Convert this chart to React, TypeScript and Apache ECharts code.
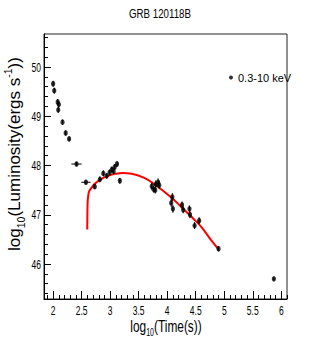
import React, { useEffect, useRef } from "react";
import * as echarts from "echarts";

const title = "GRB 120118B";
const seriesName = "0.3-10 keV";

// log10(Time) and log10(Luminosity) of the XRT points
const logTime = [2.0, 2.02, 2.08, 2.1, 2.09, 2.165, 2.22, 2.28, 2.41, 2.575, 2.73, 2.82, 2.88, 2.94, 2.99, 3.03, 3.06, 3.08, 3.12, 3.17, 3.73, 3.76, 3.79, 3.8, 3.84, 3.86, 4.07, 4.09, 4.1, 4.26, 4.28, 4.39, 4.4, 4.48, 4.56, 4.9, 5.87];
const logLum = [49.66, 49.52, 49.29, 49.24, 49.13, 48.88, 48.66, 48.54, 48.03, 47.66, 47.57, 47.72, 47.84, 47.79, 47.86, 47.92, 47.88, 47.97, 48.03, 47.69, 47.58, 47.52, 47.5, 47.62, 47.66, 47.6, 47.24, 47.36, 47.12, 47.2, 47.1, 47.12, 47.0, 46.78, 46.88, 46.31, 45.7];
const timeErr = [0, 0, 0, 0, 0, 0, 0, 0, 0.09, 0.08, 0, 0, 0, 0, 0, 0, 0, 0, 0, 0, 0, 0, 0, 0, 0, 0, 0, 0, 0, 0, 0, 0, 0, 0, 0, 0, 0];
const lumErr = [0.06, 0.06, 0.06, 0.06, 0.06, 0.05, 0.05, 0.05, 0.04, 0.04, 0.05, 0.06, 0.06, 0.06, 0.06, 0.06, 0.06, 0.06, 0.06, 0.06, 0.07, 0.07, 0.07, 0.08, 0.08, 0.08, 0.08, 0.08, 0.08, 0.07, 0.07, 0.07, 0.07, 0.07, 0.07, 0.05, 0.03];

// fitted model curve (red)
const fitTime = [2.598, 2.6, 2.603, 2.607, 2.615, 2.63, 2.675, 2.73, 2.82, 2.94, 3.08, 3.23, 3.35, 3.58, 3.8, 4.05, 4.23, 4.45, 4.6, 4.78, 4.9];
const fitLum = [46.7, 46.95, 47.17, 47.3, 47.38, 47.47, 47.55, 47.63, 47.71, 47.78, 47.83, 47.85, 47.84, 47.76, 47.6, 47.37, 47.18, 46.93, 46.75, 46.47, 46.3];

// tick values
const xMajorTicks = [2, 2.5, 3, 3.5, 4, 4.5, 5, 5.5, 6];
const xMinorTicks = [1.9, 2.1, 2.2, 2.3, 2.4, 2.6, 2.7, 2.8, 2.9, 3.1, 3.2, 3.3, 3.4, 3.6, 3.7, 3.8, 3.9, 4.1, 4.2, 4.3, 4.4, 4.6, 4.7, 4.8, 4.9, 5.1, 5.2, 5.3, 5.4, 5.6, 5.7, 5.8, 5.9, 6.1];
const yMajorTicks = [46, 47, 48, 49, 50];
const yMinorTicks = [45.4, 45.6, 45.8, 46.2, 46.4, 46.6, 46.8, 47.2, 47.4, 47.6, 47.8, 48.2, 48.4, 48.6, 48.8, 49.2, 49.4, 49.6, 49.8, 50.2, 50.4, 50.6];

const X_MIN = 1.84, X_MAX = 6.1, Y_MIN = 45.29, Y_MAX = 50.67;
const SANS = "'Liberation Sans', Arial, sans-serif";
const SQUEEZE = 0.68;

export default function App() {
  const ref = useRef<HTMLDivElement>(null);
  useEffect(() => {
    if (!ref.current) return;
    const chart = echarts.init(ref.current, undefined, { renderer: "svg" });
    const points = logTime.map((t, i) => [t, logLum[i]]);
    const errs = logTime.map((t, i) => [t, logLum[i], timeErr[i], lumErr[i]]);
    const fit = fitTime.map((t, i) => [t, fitLum[i]]);
    const axisCommon = {
      type: "value",
      min: X_MIN,
      max: X_MAX,
      splitLine: { show: false },
    };
    const baseGraphics: any[] = [
      {
        id: "title", type: "text", x: 160, y: 13, scaleX: 0.72,
        style: { text: title, font: `13.5px ${SANS}`, fill: "#000", textAlign: "center", textVerticalAlign: "middle" },
      },
      {
        id: "xname", type: "text", x: 166, y: 326, scaleX: 0.7,
        style: {
          text: "{a|log}{s|10}{a|(Time(s))}",
          textAlign: "center", textVerticalAlign: "middle",
          rich: {
            a: { fontSize: 17, fontFamily: SANS, fill: "#000" },
            s: { fontSize: 10, fontFamily: SANS, fill: "#000", verticalAlign: "bottom", padding: [14, 0, 0, 0] },
          },
        },
      },
      {
        id: "yname", type: "text", x: 14, y: 154, rotation: Math.PI / 2,
        style: {
          text: "{a|log}{s|10}{a|(Luminosity(ergs s}{p|-1}{a|))}",
          textAlign: "center", textVerticalAlign: "middle",
          rich: {
            a: { fontSize: 17, fontFamily: SANS, fill: "#000" },
            s: { fontSize: 10.5, fontFamily: SANS, fill: "#000", verticalAlign: "bottom", padding: [13, 0, 0, 0] },
            p: { fontSize: 10.5, fontFamily: SANS, fill: "#000", padding: [0, 0, 12, 0] },
          },
        },
      },
    ];
    chart.setOption({
      animation: false,
      backgroundColor: "#fff",
      grid: { left: 44, right: 32, top: 34, bottom: 55, show: true, borderColor: "#222", borderWidth: 1, backgroundColor: "transparent" },
      legend: {
        data: [seriesName],
        left: 224,
        top: 67,
        icon: "circle",
        itemWidth: 4,
        itemHeight: 5.5,
        textStyle: { fontFamily: SANS, fontSize: 11, color: "#000" },
      },
      graphic: baseGraphics,
      xAxis: [
        {
          ...axisCommon,
          position: "bottom",
          axisLine: { lineStyle: { color: "#000", width: 1 } },
          axisTick: { inside: true, length: 8, customValues: xMajorTicks, lineStyle: { color: "#000" } },
          axisLabel: { show: false },
        },
        {
          ...axisCommon,
          position: "bottom",
          axisLine: { show: false },
          axisTick: { inside: true, length: 4, customValues: xMinorTicks, lineStyle: { color: "#000" } },
          axisLabel: { show: false },
        },
      ],
      yAxis: [
        {
          type: "value", min: Y_MIN, max: Y_MAX, splitLine: { show: false },
          axisLine: { show: true, lineStyle: { color: "#000", width: 1 } },
          axisTick: { show: true, inside: true, length: 7, customValues: yMajorTicks, lineStyle: { color: "#000" } },
          axisLabel: { show: false },
        },
        {
          type: "value", min: Y_MIN, max: Y_MAX, position: "left", splitLine: { show: false },
          axisLine: { show: false },
          axisTick: { show: true, inside: true, length: 4, customValues: yMinorTicks, lineStyle: { color: "#000" } },
          axisLabel: { show: false },
        },
      ],
      series: [
        {
          type: "line",
          name: "fit",
          data: fit,
          showSymbol: false,
          smooth: 0.5,
          lineStyle: { color: "#ff0000", width: 2 },
          z: 3,
        },
        {
          type: "custom",
          name: "errors",
          data: errs,
          encode: { x: 0, y: 1 },
          renderItem: (params: any, api: any) => {
            const x = api.value(0), y = api.value(1), xe = api.value(2), ye = api.value(3);
            const a = api.coord([x - xe, y]);
            const b = api.coord([x + xe, y]);
            const c = api.coord([x, y - ye]);
            const d = api.coord([x, y + ye]);
            return {
              type: "group",
              children: [
                { type: "line", shape: { x1: a[0], y1: a[1], x2: b[0], y2: b[1] }, style: { stroke: "#000", lineWidth: 1 } },
                { type: "line", shape: { x1: c[0], y1: c[1], x2: d[0], y2: d[1] }, style: { stroke: "#000", lineWidth: 1 } },
              ],
            };
          },
          z: 4,
        },
        {
          type: "scatter",
          name: seriesName,
          data: points,
          symbol: "circle",
          symbolSize: [4.2, 5.6],
          itemStyle: { color: "#000" },
          z: 5,
        },
      ],
    });

    // tick labels placed through the axes' own scales, horizontally squeezed like the original
    const x0 = chart.convertToPixel({ yAxisIndex: 0 }, Y_MIN) as number;
    const yAxisX = chart.convertToPixel({ xAxisIndex: 0 }, X_MIN) as number;
    const tickLabels: any[] = [];
    xMajorTicks.forEach((v, i) => {
      tickLabels.push({
        id: "xl" + i, type: "text", x: chart.convertToPixel({ xAxisIndex: 0 }, v) as number, y: x0 + 5, scaleX: SQUEEZE,
        style: { text: String(v), font: `12.5px ${SANS}`, fill: "#000", textAlign: "center", textVerticalAlign: "top" },
      });
    });
    yMajorTicks.forEach((v, i) => {
      tickLabels.push({
        id: "yl" + i, type: "text", x: yAxisX - 3, y: chart.convertToPixel({ yAxisIndex: 0 }, v) as number, scaleX: SQUEEZE,
        style: { text: String(v), font: `12.5px ${SANS}`, fill: "#000", textAlign: "right", textVerticalAlign: "middle" },
      });
    });
    chart.setOption({ graphic: [...baseGraphics, ...tickLabels] });
    return () => chart.dispose();
  }, []);
  return <div ref={ref} style={{ width: 319, height: 354, position: "absolute", left: 0, top: 0 }} />;
}
